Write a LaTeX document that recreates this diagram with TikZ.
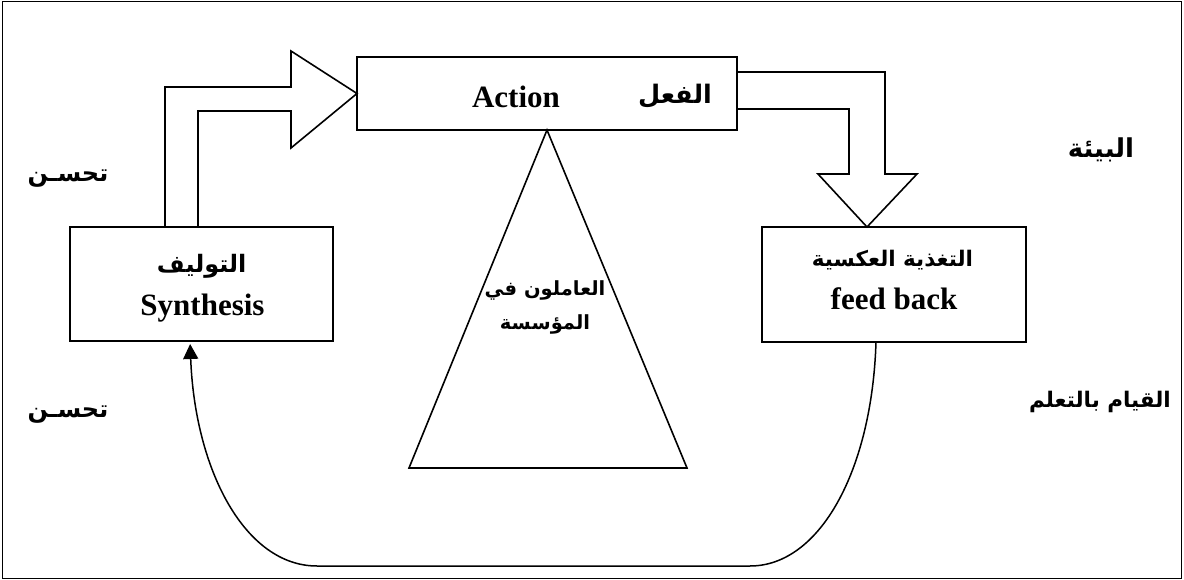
\documentclass[tikz,border=0pt]{standalone}
\usepackage{fontspec}
\setmainfont{Liberation Serif}
\newfontfamily\ar[Script=Arabic]{DejaVu Sans}
\TeXXeTstate=1
\usetikzlibrary{arrows.meta,calc}
\begin{document}
\begin{tikzpicture}[x=1pt,y=-1pt,line join=miter,
  box/.style={draw,line width=1.6pt,rectangle,inner sep=0pt,outer sep=0pt},
  en/.style={font=\fontsize{31}{31}\selectfont\bfseries,anchor=base,inner sep=0pt},
  arl/.style={font=\ar\fontsize{24}{24}\selectfont\bfseries,anchor=base,inner sep=0pt},
  ars/.style={font=\ar\fontsize{21.5}{21.5}\selectfont\bfseries,anchor=base,inner sep=0pt},
  art/.style={font=\ar\fontsize{19.5}{19.5}\selectfont\bfseries,anchor=base,inner sep=0pt},
  blk/.style={draw,line width=1.6pt},
  conn/.style={draw,line width=1.5pt,-{Triangle[length=15pt,width=15pt]},shorten >=3pt}]
\useasboundingbox (0,0) rectangle (1184,580);
\draw[line width=1.5pt] (2.5,1.5) rectangle (1181.5,578.5);
% boxes
\node[box,minimum width=380pt,minimum height=73pt] (act) at (547,93.5) {};
\node[box,minimum width=263pt,minimum height=114pt] (syn) at (201.5,284) {};
\node[box,minimum width=264pt,minimum height=115pt] (fb) at (894,284.5) {};
% texts in boxes
\node[en] (actEn) at (516,107.7) {Action};
\node[arl,font=\ar\fontsize{25.5}{25.5}\selectfont\bfseries] (actAr) at (675,104) {\beginR الفعل\endR};
\node[arl] (synAr) at (201.7,272.7) {\beginR التوليف\endR};
\node[en] (synEn) at (202.5,316) {Synthesis};
\node[ars] (fbAr) at (892.5,266) {\beginR التغذية العكسية\endR};
\node[en] (fbEn) at (894,309) {feed back};
% triangle
\coordinate (tL) at (409,468);
\coordinate (tR) at (687,468);
\draw[line width=1.6pt] (act.south) -- (tL) -- (tR) -- cycle;
\node[art] (tri1) at (545,295) {\beginR العاملون في\endR};
\node[art] (tri2) at (545,330) {\beginR المؤسسة\endR};
% side labels
\node[arl] (imp1) at (68,182) {\beginR تحسـن\endR};
\node[arl] (imp2) at (68,417) {\beginR تحسـن\endR};
\node[arl,font=\ar\fontsize{26}{26}\selectfont\bfseries] (env) at (1101,158) {\beginR البيئة\endR};
\node[ars] (learn) at (1100,407) {\beginR القيام بالتعلم\endR};
% block arrow synthesis -> action
\draw[blk] ($(syn.north west)+(95,0)$) -- (165,87) -- (291,87) -- (291,51) -- (act.west) -- (291,148) -- (291,111) -- (198,111) -- ($(syn.north west)+(128,0)$);
% block arrow action -> feedback
\draw[blk] ($(act.north east)+(0,15)$) -- (885,72) -- (885,174) -- (917,174) -- ([xshift=-27pt]fb.north) -- (818,174) -- (849,174) -- (849,109) -- ($(act.north east)+(0,52)$);
% feedback loop
\draw[conn] ([xshift=-18pt]fb.south) .. controls (872,470) and (820,566) .. (750,566) -- (317,566) .. controls (245,566) and (195,470) .. ([xshift=-11.5pt]syn.south);
\end{tikzpicture}
\end{document}
